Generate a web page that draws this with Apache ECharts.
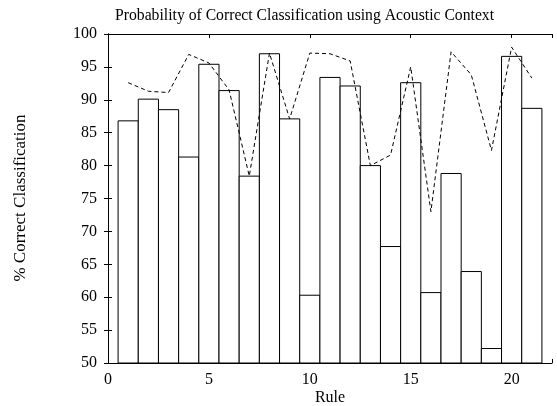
<!DOCTYPE html>
<html><head><meta charset="utf-8">
<script src="https://cdn.jsdelivr.net/npm/echarts@6/dist/echarts.min.js"></script>
<style>html,body{margin:0;padding:0;background:#fff}#c{width:557px;height:406px}</style>
</head><body><div id="c"></div>
<script>
const rules = [1,2,3,4,5,6,7,8,9,10,11,12,13,14,15,16,17,18,19,20,21];
const barValues = [86.8,90.1,88.5,81.3,95.4,91.4,78.4,97.0,87.1,60.3,93.4,92.1,80.0,67.7,92.6,60.7,78.8,63.9,52.2,96.6,88.7];
const lineValues = [92.6,91.3,91.1,96.9,95.6,91.5,78.4,97.1,87.1,97.1,97.0,95.9,80.0,81.6,95.0,73.0,97.3,93.8,82.3,98.0,93.3];
const yTicks = [50,55,60,65,70,75,80,85,90,95,100];
const xTicks = [0,5,10,15,20];

const font = 'Liberation Serif';
const chart = echarts.init(document.getElementById('c'));
const axisCommon = {
  axisLine: {show: true, lineStyle: {color: '#000', width: 1}},
  axisTick: {show: true, inside: true, length: 4, lineStyle: {color: '#000'}},
  splitLine: {show: false}
};
chart.setOption({
  animation: false,
  title: {text: 'Probability of Correct Classification using Acoustic Context', left: 110, top: 3,
    textStyle: {fontFamily: font, fontSize: 15.7, fontWeight: 'normal', color: '#000'}},
  grid: {left: 108, right: 5, top: 34, bottom: 43},
  xAxis: [
    Object.assign({type: 'value', min: 0, max: 22, interval: 5, position: 'bottom',
      axisLabel: {fontFamily: font, fontSize: 16, color: '#000', margin: 9,
        formatter: v => xTicks.includes(v) ? String(v) : ''}}, axisCommon),
    Object.assign({type: 'value', min: 0, max: 22, interval: 5, position: 'top',
      axisLabel: {show: false}}, axisCommon)
  ],
  yAxis: [
    Object.assign({type: 'value', min: 50, max: 100, interval: 5, position: 'left',
      axisLabel: {fontFamily: font, fontSize: 16, color: '#000', margin: 11,
        formatter: v => yTicks.includes(v) ? String(v) : ''}}, axisCommon),
    Object.assign({type: 'value', min: 50, max: 100, interval: 5, position: 'right',
      axisLabel: {show: false}}, axisCommon)
  ],
  graphic: [
    {type: 'text', x: 330, y: 398, style: {text: 'Rule', font: '16px "Liberation Serif"', fill: '#000',
      align: 'center', verticalAlign: 'middle'}},
    {type: 'text', x: 21, y: 198, rotation: Math.PI / 2, style: {text: '% Correct Classification',
      font: '17px "Liberation Serif"', fill: '#000', align: 'center', verticalAlign: 'middle'}}
  ],
  series: [
    {type: 'custom', xAxisIndex: 0, yAxisIndex: 0,
      data: rules.map((r, i) => [r, barValues[i]]),
      renderItem: function (params, api) {
        const x = api.value(0), v = api.value(1);
        const p0 = api.coord([x - 0.5, v]);
        const p1 = api.coord([x + 0.5, 50]);
        return {type: 'rect', shape: {x: p0[0], y: p0[1], width: p1[0] - p0[0], height: p1[1] - p0[1]},
          style: {fill: '#fff', stroke: '#000', lineWidth: 1}};
      }, z: 2},
    {type: 'line', xAxisIndex: 0, yAxisIndex: 0,
      data: rules.map((r, i) => [r, lineValues[i]]),
      symbol: 'none', lineStyle: {color: '#000', width: 1, type: [4, 3]}, z: 3}
  ]
});
</script></body></html>
